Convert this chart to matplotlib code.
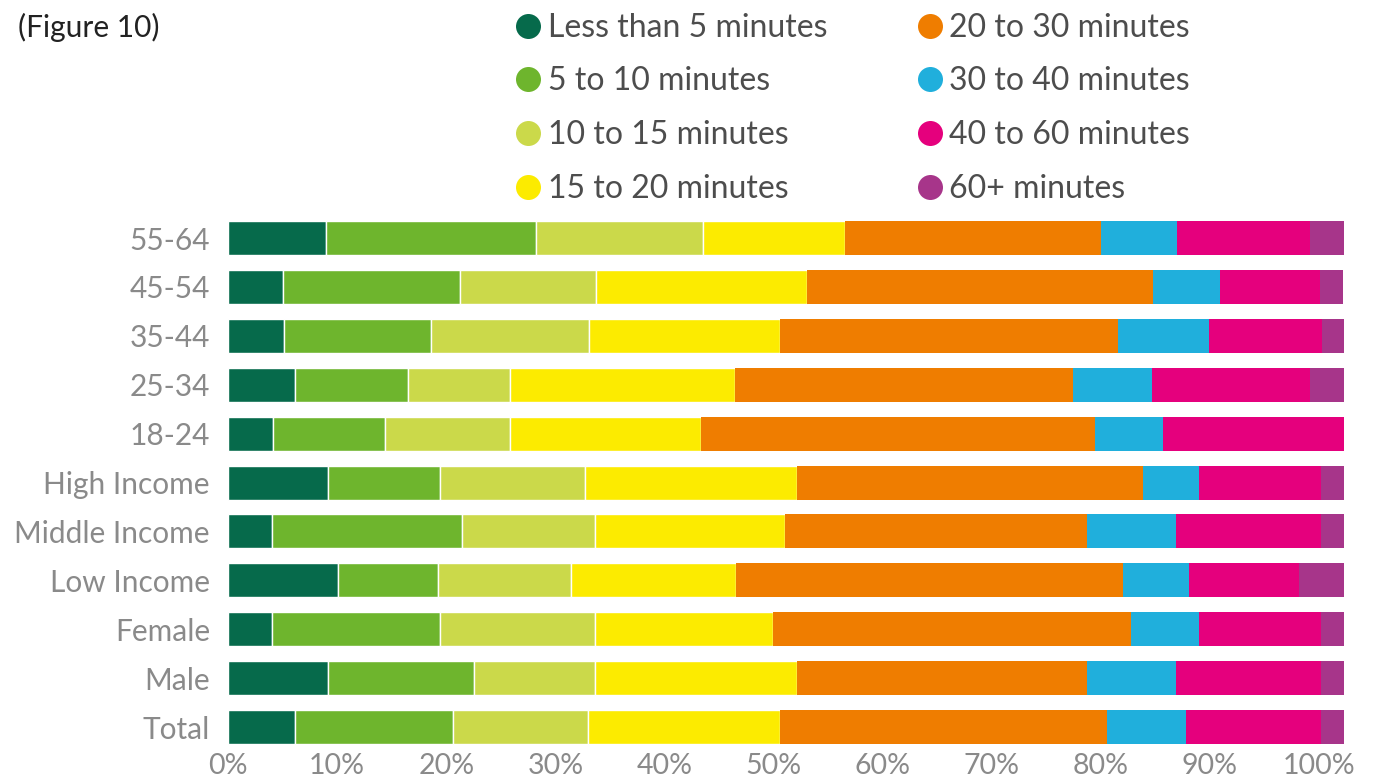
import matplotlib
matplotlib.use("Agg")
import matplotlib.pyplot as plt
from matplotlib.lines import Line2D
import numpy as np

plt.rcParams["font.family"] = ["Lato", "DejaVu Sans"]

# rows from top to bottom
groups = ["55-64", "45-54", "35-44", "25-34", "18-24", "High Income",
          "Middle Income", "Low Income", "Female", "Male", "Total"]

series_names = ["Less than 5 minutes", "5 to 10 minutes", "10 to 15 minutes",
                "15 to 20 minutes", "20 to 30 minutes", "30 to 40 minutes",
                "40 to 60 minutes", "60+ minutes"]

lt5 = [9.0, 5.0, 5.1, 6.1, 4.1, 9.2, 4.0, 10.1, 4.0, 9.2, 6.1]
m5_10 = [19.2, 16.3, 13.5, 10.4, 10.3, 10.2, 17.4, 9.1, 15.4, 13.3, 14.5]
m10_15 = [15.3, 12.4, 14.5, 9.3, 11.4, 13.3, 12.2, 12.2, 14.2, 11.1, 12.4]
m15_20 = [13.1, 19.4, 17.5, 20.7, 17.6, 19.5, 17.5, 15.2, 16.4, 18.6, 17.6]
m20_30 = [23.4, 31.7, 31.0, 31.0, 36.1, 31.7, 27.6, 35.4, 32.8, 26.5, 30.0]
m30_40 = [7.0, 6.1, 8.3, 7.2, 6.2, 5.1, 8.2, 6.1, 6.2, 8.2, 7.2]
m40_60 = [12.2, 9.2, 10.4, 14.5, 16.6, 11.2, 13.3, 10.1, 11.2, 13.3, 12.4]
m60p = [3.1, 2.1, 2.1, 3.1, 0.0, 2.1, 2.1, 4.1, 2.1, 2.1, 2.1]

colors = ["#066A4B", "#6EB52D", "#CBD94A", "#FCEB00",
          "#EF7D00", "#20AFDC", "#E5007D", "#A7358A"]

data = [lt5, m5_10, m10_15, m15_20, m20_30, m30_40, m40_60, m60p]

fig = plt.figure(figsize=(13.73, 7.78), dpi=100)
ax = fig.add_axes([0.1661, 0.0341, 0.8128, 0.6914])

y = np.arange(len(groups))
left = np.zeros(len(groups))
for i, vals in enumerate(data):
    vals = np.array(vals)
    ec = "white" if i < 4 else "none"
    ax.barh(y, vals, left=left, height=0.695, color=colors[i],
            edgecolor=ec, linewidth=1)
    left += vals

ax.set_ylim(len(groups) - 0.5, -0.5)
ax.set_xlim(0, 102.3)
ax.set_yticks(y)
ax.set_yticklabels(groups, fontsize=21.5, color="#8a8a8a")
ax.set_xticks(np.arange(0, 101, 10))
ax.set_xticklabels([f"{v}%" for v in range(0, 101, 10)], fontsize=20.5,
                   color="#8a8a8a")
ax.tick_params(axis="y", length=0, pad=13)
ax.tick_params(axis="x", length=0, pad=1)
for s in ax.spines.values():
    s.set_visible(False)

# legend
handles = [Line2D([0], [0], marker="o", linestyle="none", markersize=18,
                  markerfacecolor=c, markeredgecolor="none") for c in colors]
leg = fig.legend(handles, series_names, ncol=2, loc="upper left",
                 bbox_to_anchor=(0.366, 1.0), frameon=False, fontsize=23,
                 handletextpad=0.22, labelspacing=0.74, columnspacing=2.8,
                 handlelength=0.8, borderaxespad=0)
for t in leg.get_texts():
    t.set_color("#4d4d4d")

fig.text(0.013, 0.965, "(Figure 10)", fontsize=21.5, color="#222222",
         ha="left", va="center")

fig.savefig("out.png", dpi=100, facecolor="white")
